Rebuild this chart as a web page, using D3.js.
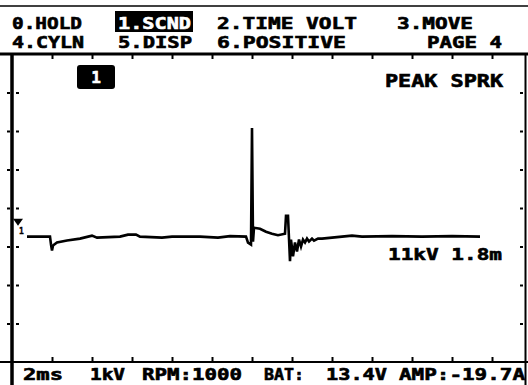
<!DOCTYPE html>
<html><head><meta charset="utf-8">
<script src="https://cdn.jsdelivr.net/npm/d3@7"></script>
<style>
html,body{margin:0;padding:0;background:#fff;}
svg{display:block;}
text{font-family:"DejaVu Sans Mono",monospace;font-weight:bold;fill:#000;stroke:#000;stroke-width:0.6px;}
text.inv{fill:#fff;stroke:#fff;}
</style></head><body>
<svg id="scope" width="528" height="385"></svg>
<script>
// Secondary ignition trace: time (ms) and voltage (kV)
const timeMs = [0.75,1.9,1.95,2.0,2.05,2.25,2.75,3.4,4.0,4.25,5.4,5.8,6.2,6.4,7.5,8.0,9.4,10.3,10.9,11.7,11.8,11.95,12.0,12.05,12.1,12.4,12.7,13.0,13.3,13.65,13.7,13.8,13.9,13.95,14.05,14.15,14.25,14.35,14.45,14.55,14.65,14.75,14.85,15.0,15.1,15.3,15.5,16.5,17.0,17.5,19.0,20.5,22.0,23.4];
const voltsKv = [0,0,-0.8,-1.4,-0.9,-0.6,-0.4,-0.2,0.1,-0.1,0,0.2,0.2,0,-0.1,0,0,-0.1,0.05,0,-0.6,-0.8,11,-0.5,0.9,0.8,0.5,0.3,0.15,0.3,2.1,2.1,-2.5,-0.3,-2.0,-0.6,-1.5,-0.3,-1.0,-0.3,-0.6,-0.2,-0.5,-0.2,-0.4,-0.2,-0.2,0,0.1,0,0.05,0,0.05,0];
const burnMs = 1.8;
const triggerKv = 1.5;

// Menu, readout and status texts
const menuRow1 = ["0.HOLD","1.SCND","2.TIME VOLT","3.MOVE"];
const menuRow2 = ["4.CYLN","5.DISP","6.POSITIVE","PAGE 4"];
const statusItems = ["2ms","1kV","RPM:1000","BAT:","13.4V","AMP:-19.7A"];
const modeLabel = "PEAK SPRK";
const channelLabel = "1";

// Graticule ticks: every 2 ms across, 8 divisions down
const timeTicks = [2,4,6,8,10,12,14,16,18,20,22,24];
const divTicks = [1,2,3,4,5,6,7];

const svg = d3.select("#scope");
const L = 12, R = 527, T = 54, B = 362;

const x = d3.scaleLinear().domain([0, 25.75]).range([L, R]);
const y = d3.scaleLinear().domain([-12.7, 18.5]).range([B, T]);
const yDiv = d3.scaleLinear().domain([0, 8]).range([B, T]);

// top strip line
svg.append("line").attr("x1",0).attr("x2",528).attr("y1",6).attr("y2",6)
  .attr("stroke","#000").attr("stroke-width",1.5);

// menu rows
const menuX1 = [12,118,217,397], menuW1 = [70,73,140,76];
const menuX2 = [12,118,217,427], menuW2 = [72,74,129,75];
svg.append("rect").attr("x",115).attr("y",11).attr("width",78).attr("height",21).attr("fill","#000");
menuRow1.forEach((s,i)=>{
  svg.append("text").attr("class", i===1 ? "inv" : null)
    .attr("x",menuX1[i]).attr("y",29).attr("font-size",16)
    .attr("textLength",menuW1[i]).attr("lengthAdjust","spacingAndGlyphs").text(s);
});
menuRow2.forEach((s,i)=>{
  svg.append("text").attr("x",menuX2[i]).attr("y",48).attr("font-size",16)
    .attr("textLength",menuW2[i]).attr("lengthAdjust","spacingAndGlyphs").text(s);
});

// frame
const frame = svg.append("g").attr("stroke","#000").attr("fill","none");
frame.append("line").attr("x1",0).attr("x2",528).attr("y1",T).attr("y2",T).attr("stroke-width",3);
frame.append("line").attr("x1",0).attr("x2",528).attr("y1",B).attr("y2",B).attr("stroke-width",2);
frame.append("line").attr("x1",L).attr("x2",L).attr("y1",T).attr("y2",385).attr("stroke-width",3.5);
frame.append("line").attr("x1",525.5).attr("x2",525.5).attr("y1",T).attr("y2",385).attr("stroke-width",2);

// graticule tick marks via axes
const tickStyle = g => { g.select(".domain").remove(); g.selectAll("line").attr("stroke","#000").attr("stroke-width",2); };
svg.append("g").attr("transform",`translate(0,${T+1})`)
  .call(d3.axisBottom(x).tickValues(timeTicks).tickSize(4).tickFormat("")).call(tickStyle);
svg.append("g").attr("transform",`translate(0,${B-1})`)
  .call(d3.axisTop(x).tickValues(timeTicks).tickSize(4).tickFormat("")).call(tickStyle);
svg.append("g").attr("transform",`translate(${L+4},0)`)
  .call(d3.axisRight(yDiv).tickValues(divTicks).tickSize(3).tickFormat("")).call(tickStyle);
svg.append("g").attr("transform",`translate(${L-2},0)`)
  .call(d3.axisLeft(yDiv).tickValues(divTicks).tickSize(3).tickFormat("")).call(tickStyle);
svg.append("g").attr("transform",`translate(523,0)`)
  .call(d3.axisLeft(yDiv).tickValues(divTicks).tickSize(3).tickFormat("")).call(tickStyle);

// channel tag
svg.append("rect").attr("x",77).attr("y",65).attr("width",38).attr("height",24).attr("rx",3).attr("fill","#000");
svg.append("text").attr("class","inv").attr("x",96).attr("y",83).attr("font-size",16)
  .attr("text-anchor","middle").text(channelLabel);

// mode readout
svg.append("text").attr("x",385).attr("y",87).attr("font-size",17)
  .attr("textLength",118).attr("lengthAdjust","spacingAndGlyphs").text(modeLabel);

// trigger level marker
const ty = y(triggerKv);
svg.append("path").attr("d",`M${L+1},${ty-3}L${L+11},${ty-3}L${L+6},${ty+4}Z`).attr("fill","#000");
svg.append("text").attr("x",L+7).attr("y",ty+12).attr("font-size",8)
  .style("stroke-width","0.3px").text(channelLabel);

// waveform
const pts = timeMs.map((t,i)=>[t, voltsKv[i]]);
svg.append("path").datum(pts)
  .attr("d", d3.line().x(d=>x(d[0])).y(d=>y(d[1])))
  .attr("fill","none").attr("stroke","#000").attr("stroke-width",2.6).attr("stroke-linejoin","miter");

// peak / burn readout
const peak = d3.max(voltsKv);
svg.append("text").attr("x",388).attr("y",260).attr("font-size",16)
  .attr("textLength",114).attr("lengthAdjust","spacingAndGlyphs")
  .text(`${peak}kV ${burnMs}m`);

// status line
const statX = [23,90,142,264,326,399], statW = [40,35,100,40,61,126];
statusItems.forEach((s,i)=>{
  svg.append("text").attr("x",statX[i]).attr("y",380).attr("font-size",16)
    .attr("textLength",statW[i]).attr("lengthAdjust","spacingAndGlyphs").text(s);
});
</script>
</body></html>
